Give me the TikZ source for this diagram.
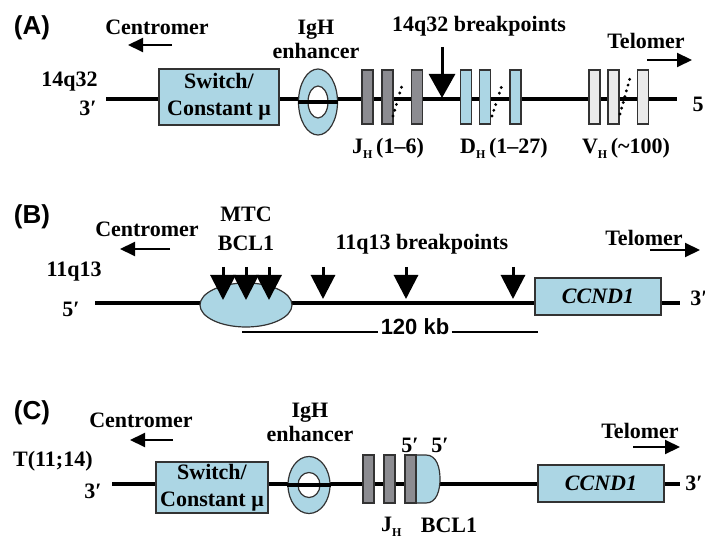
\documentclass[tikz,border=0pt]{standalone}
\usepackage{fontspec}
\setmainfont{Liberation Serif}
\setsansfont{Liberation Sans}
\usepackage{xcolor}
\usepackage{tikz}
\usetikzlibrary{arrows.meta,shapes.geometric}

\definecolor{geneblue}{RGB}{172,214,228}
\definecolor{jgray}{RGB}{140,140,145}
\definecolor{vgray}{RGB}{234,234,234}
\newcommand{\subH}{\raisebox{-2.5pt}{\fontsize{6}{6}\selectfont H}\,}

\begin{document}
\begin{tikzpicture}[
  x=0.5pt, y=-0.5pt,
  txt/.style={font=\fontsize{11}{12}\selectfont\bfseries, inner sep=0pt, align=center},
  panel/.style={font=\fontsize{13}{14}\selectfont\sffamily\bfseries, inner sep=0pt},
  gene/.style={draw=black!80, line width=0.6pt, fill=geneblue, inner sep=0pt, font=\fontsize{11}{13.5}\selectfont\bfseries, align=center},
  seg/.style={draw=black!80, line width=0.6pt, fill=#1, minimum width=5.5pt, inner sep=0pt},
  seg/.default={jgray},
  enh/.style={draw=black!80, line width=0.6pt, fill=geneblue, ellipse, inner sep=0pt},
  hole/.style={draw=black!80, line width=0.6pt, fill=white, ellipse, inner sep=0pt},
  chrom/.style={line width=1.8pt},
  dir/.style={-{Triangle[length=7.5pt,width=7pt]}, line width=1pt},
  brk/.style={-{Triangle[length=12pt,width=13pt]}, line width=1.5pt},
  dots/.style={line width=1.6pt, dash pattern=on 0pt off 3pt, line cap=round},
]
\useasboundingbox[fill=white] (0,0) rectangle (705,539);

% ── (A) 14q32 ────────────────────────────────────────────────
\node[panel] (labA) at (32,28) {(A)};
\node[txt] (cenA) at (157,27) {Centromer};
\coordinate (cenAs) at (172,45);
\coordinate (cenAe) at (128,45);
\draw[dir] (cenAs) -- (cenAe);
\node[txt] (igA) at (316,39) {IgH\\enhancer};
\node[txt, anchor=east] (chrA) at (98,82) {14q32};
\node[txt, anchor=east] (endA3) at (97,108) {3′};
\node[txt] (endA5) at (698,104) {5};

\coordinate (a3) at (106,99);
\coordinate (a5) at (677,99);
\draw[chrom] (a3) -- (a5);

\node[gene, minimum width=60pt, minimum height=28pt] (swA) at (219,97) {Switch/\\Constant μ};
\node[enh, minimum width=19.5pt, minimum height=33pt] (enhA) at (318,102) {};
\node[hole, minimum width=10pt, minimum height=16pt] (holeA) at (enhA) {};
\draw[chrom] (enhA.west) -- (enhA.east);

\foreach \x [count=\i] in {367.5,387.5,417}
  \node[seg, minimum height=27pt] (jA\i) at (\x,97) {};
\foreach \x [count=\i] in {466,485,515.5}
  \node[seg=geneblue, minimum height=27pt] (dA\i) at (\x,97) {};
\foreach \x [count=\i] in {594.5,613.5,643}
  \node[seg=vgray, minimum height=27pt] (vA\i) at (\x,97) {};
\draw[dots] (393,116) -- (403,82);
\draw[dots] (492,116) -- (503,82);
\draw[dots] (620,114) -- (630,78);

\node[txt] (bpA) at (479,26) {14q32 breakpoints};
\coordinate (bpAs) at (442,47);
\coordinate (bpAe) at (442,98);
\draw[brk] (bpAs) -- (bpAe);

\node[txt] (jlA) at (388,148) {J\subH(1--6)};
\node[txt] (dlA) at (504,148) {D\subH(1--27)};
\node[txt] (vlA) at (626,148) {V\subH(\textasciitilde100)};

\node[txt] (telA) at (646,41) {Telomer};
\coordinate (telAs) at (647,60);
\coordinate (telAe) at (692,60);
\draw[dir] (telAs) -- (telAe);

% ── (B) 11q13 ────────────────────────────────────────────────
\node[panel] (labB) at (32,217) {(B)};
\node[txt] (cenB) at (147,229) {Centromer};
\coordinate (cenBs) at (170,249);
\coordinate (cenBe) at (120,249);
\draw[dir] (cenBs) -- (cenBe);
\node[txt, font=\fontsize{11}{14.5}\selectfont\bfseries] (mtcB) at (246,229) {MTC\\BCL1};
\node[txt, anchor=east] (chrB) at (102,272) {11q13};
\node[txt, anchor=east] (endB5) at (80,309) {5′};
\node[txt] (endB3) at (699,298) {3′};

\coordinate (b5) at (95,303);
\coordinate (b3) at (680,303);
\draw[chrom] (b5) -- (b3);

\node[enh, minimum width=46pt, minimum height=22pt] (bclB) at (246,305) {};
\node[gene, minimum width=63pt, minimum height=18.5pt, font=\fontsize{11}{12}\selectfont\bfseries\itshape] (ccB) at (598,296.5) {CCND1};

\foreach \x [count=\i] in {223,246,269}{
  \coordinate (mtcs\i) at (\x,267);
  \coordinate (mtce\i) at (\x,300);
  \draw[-{Triangle[length=12.5pt,width=12.5pt]}, line width=1.5pt] (mtcs\i) -- (mtce\i);
}
\foreach \x [count=\i] in {323,406,513}{
  \coordinate (bps\i) at (\x,267);
  \coordinate (bpe\i) at (\x,299);
  \draw[-{Triangle[length=12pt,width=12pt]}, line width=1.5pt] (bps\i) -- (bpe\i);
}
\node[txt] (bpB) at (422,244) {11q13 breakpoints};

\node[font=\fontsize{11}{12}\selectfont\sffamily\bfseries, inner sep=1pt] (kbB) at (415,327) {120 kb};
\coordinate (kbl) at (242,332);
\coordinate (kbr) at (538,332);
\draw[line width=0.8pt] (kbl) -- (kbl -| kbB.west);
\draw[line width=0.8pt] (kbr -| kbB.east) -- (kbr);

\node[txt] (telB) at (644,238) {Telomer};
\coordinate (telBs) at (650,250);
\coordinate (telBe) at (700,250);
\draw[dir] (telBs) -- (telBe);

% ── (C) t(11;14) ─────────────────────────────────────────────
\node[panel] (labC) at (32,413) {(C)};
\node[txt] (cenC) at (141,420) {Centromer};
\coordinate (cenCs) at (173,440);
\coordinate (cenCe) at (130,440);
\draw[dir] (cenCs) -- (cenCe);
\node[txt] (igC) at (310,422) {IgH\\enhancer};
\node[txt, anchor=east] (chrC) at (93,461) {T(11;14)};
\node[txt, anchor=east] (endC3l) at (102,491) {3′};
\node[txt] (endC3r) at (694,483) {3′};

\coordinate (c3l) at (112,484);
\coordinate (c3r) at (680,484);
\draw[chrom] (c3l) -- (c3r);

\node[gene, minimum width=56pt, minimum height=25.5pt] (swC) at (212,487.5) {Switch/\\Constant μ};
\node[enh, minimum width=21pt, minimum height=28.5pt] (enhC) at (309,485) {};
\node[hole, minimum width=11pt, minimum height=12.5pt] (holeC) at (enhC) {};
\draw[chrom] (enhC.west) -- (enhC.east);

\foreach \x [count=\i] in {368.5,389.5,410.5}
  \node[seg, minimum height=24pt] (jC\i) at (\x,479) {};
\draw[draw=black!80, line width=0.6pt, fill=geneblue]
  (413.25,455) -- (426,455) to[out=0,in=90] (440,479) to[out=-90,in=0] (426,503) -- (413.25,503) -- cycle;
\node[seg, minimum height=24pt] (jC3b) at (410.5,479) {};
\node[gene, minimum width=63pt, minimum height=18.5pt, font=\fontsize{11}{12}\selectfont\bfseries\itshape] (ccC) at (601,483.5) {CCND1};

\node[txt] (p5a) at (410,445) {5′};
\node[txt] (p5b) at (440,445) {5′};
\node[txt] (jlC) at (393,527) {J\subH};
\node[txt] (bclC) at (449,525) {BCL1};

\node[txt] (telC) at (640,431) {Telomer};
\coordinate (telCs) at (633,447);
\coordinate (telCe) at (680,447);
\draw[dir] (telCs) -- (telCe);

\end{tikzpicture}
\end{document}
